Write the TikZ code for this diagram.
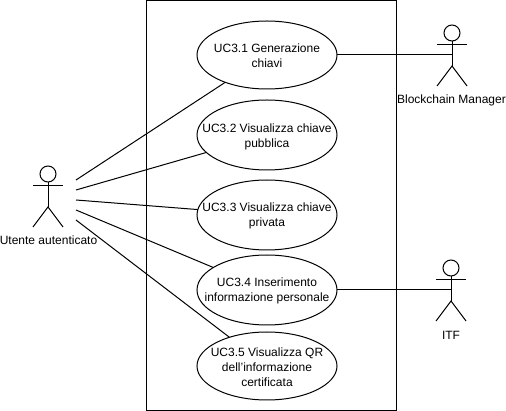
\documentclass[tikz,border=0pt]{standalone}
\usepackage{fontspec}
\setmainfont{Liberation Sans}
\usetikzlibrary{shapes.geometric}
\tikzset{
  usecase/.style={draw=black,ellipse,line width=1pt,minimum width=140pt,minimum height=#1,inner sep=0pt,outer sep=0pt},
  usecase/.default=70pt,
  lbl/.style={inner sep=0pt,align=center,font=\fontsize{12}{15}\selectfont},
  link/.style={line width=1pt,draw=black},
  actorhead/.style={draw=black,circle,line width=1pt,minimum size=16pt,inner sep=0pt},
  pics/actor/.style={code={
    \node[actorhead] (#1head) at (0,0) {};
    \draw[link] (#1head.south) -- (0,33);
    \draw[link] (-15,12) -- (15,12);
    \draw[link] (-15,53) -- (0,33) -- (15,53);
    \coordinate (#1body) at (0,22);
  }}
}
\begin{document}
\begin{tikzpicture}[x=1pt,y=-1pt]
\useasboundingbox (0,0) rectangle (506,411);
\node[draw=black,line width=1pt,minimum width=250pt,minimum height=410pt,inner sep=0pt] (box) at (271,205.7) {};
\node[usecase=68pt] (uc1) at (267,55) {};
\node[usecase] (uc2) at (267,135) {};
\node[usecase] (uc3) at (267,215) {};
\node[usecase] (uc4) at (267,290) {};
\node[usecase=68pt] (uc5) at (267,366) {};
\node[lbl] (t1) at (267,56) {UC3.1 Generazione\\chiavi};
\node[lbl] (t2) at (267,137) {UC3.2 Visualizza chiave\\pubblica};
\node[lbl] (t3) at (267,216) {UC3.3 Visualizza chiave\\privata};
\node[lbl] (t4) at (267,291) {UC3.4 Inserimento\\informazione personale};
\node[lbl] (t5) at (267,367) {UC3.5 Visualizza QR\\dell'informazione\\certificata};
\pic at (48,174) {actor=u};
\pic at (452,33) {actor=b};
\pic at (451,268) {actor=i};
\node[lbl] (ulbl) at (48.5,240.5) {Utente autenticato};
\node[lbl] (blbl) at (451.5,100) {Blockchain Manager};
\node[lbl] (ilbl) at (451,335) {ITF};
\coordinate (s1) at (76,180);
\coordinate (s2) at (76,190);
\coordinate (s3) at (76,200);
\coordinate (s4) at (76,210);
\coordinate (s5) at (76,220);
\draw[link] (s1) -- (uc1);
\draw[link] (s2) -- (uc2);
\draw[link] (s3) -- (uc3);
\draw[link] (s4) -- (uc4);
\draw[link] (s5) -- (uc5);
\draw[link] (uc1.east) -- (bbody);
\draw[link] (uc4.east) -- (ibody);
\end{tikzpicture}
\end{document}
